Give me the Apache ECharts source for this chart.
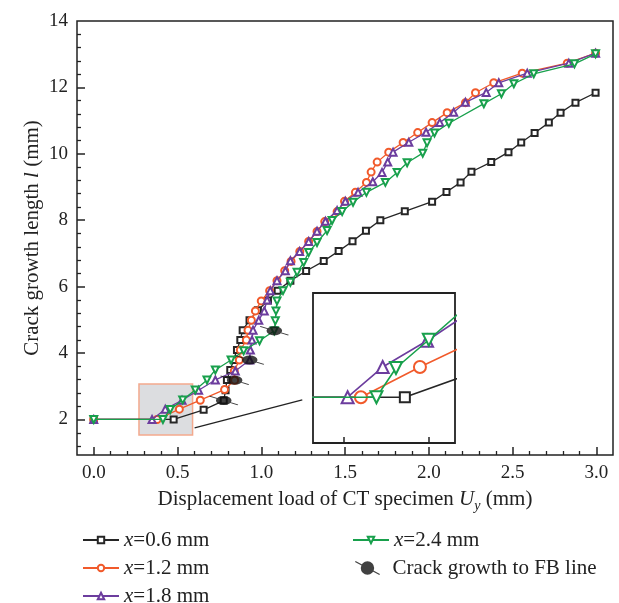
<!DOCTYPE html>
<html><head><meta charset="utf-8">
<script src="https://cdn.jsdelivr.net/npm/echarts@6/dist/echarts.min.js"></script>
<style>html,body{margin:0;padding:0;background:#fff}#c{width:619px;height:603px}</style>
</head><body><div id="c"></div>
<script>
// ---- data (displacement U_y in mm, crack length l in mm) ----
const u06 = [0,0.477,0.656,0.776,0.787,0.795,0.815,0.835,0.855,0.875,0.889,0.93,0.98,1.04,1.098,1.174,1.268,1.373,1.462,1.545,1.625,1.711,1.857,2.02,2.106,2.19,2.255,2.373,2.476,2.552,2.632,2.717,2.787,2.876,2.996];
const l06 = [2.0,2.0,2.29,2.57,2.88,3.19,3.49,3.79,4.09,4.39,4.69,4.99,5.29,5.58,5.88,6.18,6.47,6.77,7.07,7.37,7.68,8.0,8.27,8.56,8.85,9.14,9.46,9.75,10.05,10.34,10.63,10.94,11.24,11.54,11.84];
const u12 = [0,0.378,0.511,0.636,0.781,0.841,0.839,0.869,0.875,0.911,0.921,0.941,0.965,1.0,1.05,1.094,1.14,1.178,1.23,1.283,1.333,1.379,1.453,1.497,1.562,1.628,1.656,1.692,1.761,1.847,1.934,2.02,2.11,2.219,2.279,2.388,2.558,2.827,2.996];
const l12 = [2.0,2.0,2.31,2.58,2.9,3.18,3.46,3.79,4.09,4.39,4.69,4.99,5.27,5.57,5.88,6.18,6.48,6.76,7.06,7.36,7.66,7.96,8.26,8.57,8.84,9.14,9.45,9.75,10.05,10.34,10.64,10.94,11.24,11.54,11.84,12.14,12.43,12.73,13.03];
const u18 = [0,0.348,0.427,0.527,0.626,0.726,0.845,0.931,0.935,0.945,0.951,0.985,1.018,1.035,1.054,1.094,1.144,1.174,1.229,1.283,1.333,1.383,1.453,1.502,1.578,1.666,1.721,1.755,1.787,1.881,1.984,2.066,2.149,2.219,2.343,2.418,2.588,2.836,2.996];
const l18 = [2.0,2.0,2.31,2.58,2.88,3.19,3.46,3.79,4.09,4.39,4.69,4.99,5.27,5.6,5.88,6.18,6.48,6.78,7.06,7.36,7.67,7.97,8.29,8.57,8.84,9.16,9.44,9.75,10.05,10.35,10.65,10.94,11.25,11.55,11.85,12.14,12.43,12.73,13.03];
const u24 = [0,0.413,0.457,0.531,0.606,0.676,0.726,0.82,0.895,0.99,1.078,1.084,1.088,1.094,1.13,1.174,1.214,1.253,1.283,1.333,1.393,1.423,1.483,1.548,1.628,1.741,1.811,1.871,1.964,1.99,2.034,2.12,2.329,2.434,2.508,2.627,2.87,2.996];
const l24 = [2.0,2.0,2.3,2.59,2.89,3.19,3.49,3.79,4.07,4.37,4.67,4.97,5.27,5.57,5.88,6.13,6.43,6.73,7.03,7.33,7.69,7.99,8.26,8.54,8.84,9.14,9.44,9.73,10.02,10.33,10.63,10.92,11.51,11.81,12.11,12.41,12.71,13.01];
const uFB = [0.776,0.841,0.931,1.078];
const lFB = [2.57,3.18,3.79,4.67];

const seriesNames = ['x=0.6 mm','x=1.2 mm','x=1.8 mm','x=2.4 mm'];
const fbName = 'Crack growth to FB line';

// axis ranges and tick positions
const xRange = [-0.1,3.1];
const yRange = [0.93,14];
const xMajorRange = [0,3], xMajorStep = 0.5;     // labelled x ticks 0.0 … 3.0
const yMajorRange = [2,14], yMajorStep = 2;      // labelled y ticks 2 … 14
const xMajorTicks = [0,0.5,1.0,1.5,2.0,2.5,3.0];
const xMinorTicks = [0.1,0.2,0.3,0.4,0.6,0.7,0.8,0.9,1.1,1.2,1.3,1.4,1.6,1.7,1.8,1.9,2.1,2.2,2.3,2.4,2.6,2.7,2.8,2.9];
const yMajorTicks = [2,4,6,8,10,12];
const yMinorTicks = [1.2,1.6,2.4,2.8,3.2,3.6,4.4,4.8,5.2,5.6,6.4,6.8,7.2,7.6,8.4,8.8,9.2,9.6,10.4,10.8,11.2,11.6,12.4,12.8,13.2,13.6];
const insetXTicks = [0.34,0.53];
// zoom window (shaded box / inset range)
const zoomX = [0.27,0.59];
const zoomY = [1.53,3.07];
// arrow from shaded box to inset
const arrowFrom = [0.602,1.75];
const arrowTo = [1.245,2.59];

const colors = ['#262626','#f15a2b','#6c3d9e','#18a04c'];
const symbols = ['emptyRect','emptyCircle','emptyTriangle','emptyTriangle'];
const rotates = [0,0,0,180];
const FONT = 'Liberation Serif';

const pairs = (u,l)=>u.map((v,i)=>[v,l[i]]);
const dataSets = [pairs(u06,l06),pairs(u12,l12),pairs(u18,l18),pairs(u24,l24)];

const fbPath = 'path://M7.3,1.8L279.3,145.8L272.7,158.2L0.7,14.2Z M65,80 A75,75 0 1,1 215,80 A75,75 0 1,1 65,80Z';

// plot box geometry (px)
const G = {left:77, top:21, width:536, height:434};
const GI = {left:313, top:293, width:142, height:150};
const pxX = G.width/(xRange[1]-xRange[0]);
const pxY = G.height/(yRange[1]-yRange[0]);
const pxYi = GI.height/(zoomY[1]-zoomY[0]);
const gXMaj = {left:G.left+(xMajorRange[0]-xRange[0])*pxX, width:(xMajorRange[1]-xMajorRange[0])*pxX, top:G.top, height:G.height, show:false};
const gYMaj = {left:G.left, width:G.width, top:G.top+(yRange[1]-yMajorRange[1])*pxY, height:(yMajorRange[1]-yMajorRange[0])*pxY, show:false};

// inward tick marks along the box edges, expressed in axis units
const xTickSegs = (vals, len, y0, s) => vals.map(v => [{coord:[v, y0]},{coord:[v, y0 + len/s]}]);
const yTickSegs = (vals, len) => vals.map(v => [{coord:[xRange[0], v]},{coord:[xRange[0] + len/pxX, v]}]);
const tickSeries = (xi, yi, segs, w) => ({type:'line', xAxisIndex:xi, yAxisIndex:yi, data:[], z:12, silent:true,
  markLine:{silent:true, symbol:['none','none'], label:{show:false}, animation:false,
    lineStyle:{color:'#222', width:w, type:'solid'}, emphasis:{disabled:true}, data:segs}});

const series = [];
series.push({
  type:'line', xAxisIndex:0, yAxisIndex:0, data:[], z:1, silent:true,
  markArea:{silent:true, itemStyle:{color:'#dcdde0',borderColor:'#f3a98d',borderWidth:1.5},
    data:[[{coord:[zoomX[0],zoomY[0]]},{coord:[zoomX[1],zoomY[1]]}]]},
  markLine:{silent:true, symbol:['none','triangle'], symbolSize:[0,[9,14]],
    lineStyle:{color:'#222',width:1.3,type:'solid'}, label:{show:false},
    data:[[{coord:arrowFrom},{coord:arrowTo}]]}
});
series.push(tickSeries(0,0, xTickSegs(xMajorTicks, 8, yRange[0], pxY), 1.5));
series.push(tickSeries(0,0, xTickSegs(xMinorTicks, 4, yRange[0], pxY), 1.3));
series.push(tickSeries(0,0, yTickSegs(yMajorTicks, 8), 1.5));
series.push(tickSeries(0,0, yTickSegs(yMinorTicks, 4), 1.3));
series.push(tickSeries(1,1, xTickSegs(insetXTicks, 6, zoomY[0], pxYi), 1.5));
for (let k=0;k<4;k++){
  const base = {type:'line', name:seriesNames[k], symbol:symbols[k], symbolRotate:rotates[k],
    itemStyle:{color:colors[k],borderWidth:1.2}, lineStyle:{color:colors[k],width:1.3},
    z:3+k, animation:false, clip:true};
  series.push(Object.assign({}, base, {xAxisIndex:0,yAxisIndex:0,data:dataSets[k],symbolSize:k===0?6:7}));
  series.push(Object.assign({}, base, {xAxisIndex:1,yAxisIndex:1,data:dataSets[k],symbolSize:k===0?10:12,
    lineStyle:{color:colors[k],width:1.6}, itemStyle:{color:colors[k],borderWidth:1.4}}));
}
series.push({type:'scatter', name:fbName, xAxisIndex:0, yAxisIndex:0, data:pairs(uFB,lFB),
  symbol:fbPath, symbolSize:[29,17], symbolKeepAspect:true, itemStyle:{color:'#111'}, z:10});

const TS = 21;
const rich = {
  n:{fontFamily:FONT,fontSize:TS,color:'#222',lineHeight:22},
  i:{fontFamily:FONT,fontSize:TS,fontStyle:'italic',color:'#222',lineHeight:22},
  s:{fontFamily:FONT,fontSize:14,fontStyle:'italic',color:'#222',padding:[13,0,0,0]}
};
const legFmt = name => name.startsWith('x=') ? '{i|x}{n|' + name.slice(1) + '}' : '{n|' + name + '}';
const legText = {rich:rich, fontFamily:FONT, fontSize:TS, lineHeight:22};
const mkLegend = (name, left, top, extra) => Object.assign({orient:'horizontal', left:left, top:top,
  itemWidth:36, itemHeight:8, itemGap:8, data:[name], formatter:legFmt, textStyle:legText, selectedMode:false}, extra||{});

const hidden = {axisLine:{show:false}, splitLine:{show:false}, axisLabel:{show:false}, axisTick:{show:false}};
const lblStyle = {fontFamily:FONT, fontSize:19, color:'#222'};
const catAxis = gi => ({type:'category', gridIndex:gi, data:['-'], show:false});

const option = {
  animation:false,
  backgroundColor:'#fff',
  grid:[
    Object.assign({show:true, borderColor:'#222', borderWidth:1.5}, G),
    Object.assign({show:true, borderColor:'#222', borderWidth:1.8}, GI),
    gXMaj, gYMaj
  ],
  xAxis:[
    Object.assign({type:'value', gridIndex:0, min:xRange[0], max:xRange[1]}, hidden, {
      name:'{n|Displacement load of CT specimen }{i|U}{s|y}{n| (mm)}', nameLocation:'middle', nameGap:31,
      nameTextStyle:{rich:rich}}),
    Object.assign({type:'value', gridIndex:1, min:zoomX[0], max:zoomX[1]}, hidden),
    Object.assign({type:'value', gridIndex:2, min:xMajorRange[0], max:xMajorRange[1], interval:xMajorStep}, hidden,
      {axisLabel:Object.assign({show:true, margin:9, formatter:v=>Number(v).toFixed(1)}, lblStyle)}),
    catAxis(3)
  ],
  yAxis:[
    Object.assign({type:'value', gridIndex:0, min:yRange[0], max:yRange[1], position:'left'}, hidden, {
      axisLine:{show:false, onZero:false},
      name:'{n|Crack growth length }{i|l}{n| (mm)}', nameLocation:'middle', nameGap:34, nameRotate:90,
      nameTextStyle:{rich:rich}}),
    Object.assign({type:'value', gridIndex:1, min:zoomY[0], max:zoomY[1]}, hidden),
    catAxis(2),
    Object.assign({type:'value', gridIndex:3, min:yMajorRange[0], max:yMajorRange[1], interval:yMajorStep,
      position:'left'}, hidden, {axisLabel:Object.assign({show:true, margin:9}, lblStyle)})
  ],
  legend:[
    mkLegend(seriesNames[0], 77, 524),
    mkLegend(seriesNames[1], 77, 552),
    mkLegend(seriesNames[2], 77, 580),
    mkLegend(seriesNames[3], 347, 524),
    mkLegend({name:fbName, icon:fbPath}, 350, 552, {itemWidth:40, itemHeight:14, symbolKeepAspect:true, itemStyle:{color:'#111'}})
  ],
  series:series
};
const chart = echarts.init(document.getElementById('c'), null, {renderer:'canvas'});
chart.setOption(option);
</script></body></html>
